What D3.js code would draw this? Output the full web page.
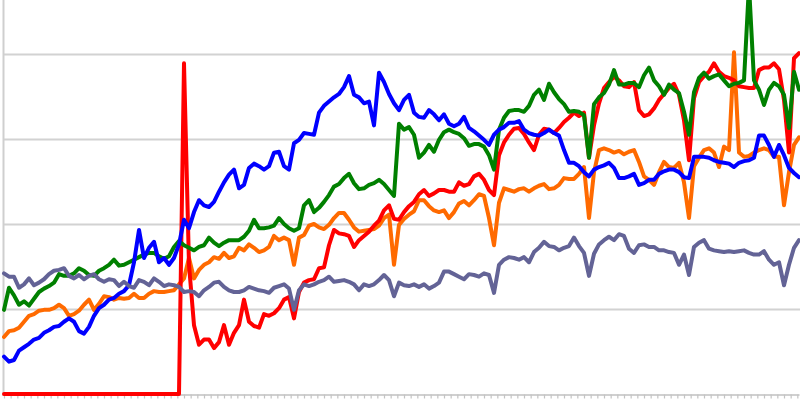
<!DOCTYPE html>
<html><head><meta charset="utf-8">
<script src="https://cdn.jsdelivr.net/npm/d3@7"></script>
<style>html,body{margin:0;padding:0;background:#fff;overflow:hidden}</style>
</head><body><svg id="chart" width="800" height="400"></svg>
<script>
const blue = [
4.4,3.8,4.0,5.1,5.5,5.9,6.4,6.6,7.2,7.5,
7.9,8.0,8.5,8.9,8.5,7.4,7.1,7.9,9.2,10.1,
10.5,11.1,11.3,11.8,12.1,12.8,15.5,19.3,16.0,17.2,
17.9,15.5,16.0,15.2,16.0,17.6,20.5,19.5,21.4,22.8,
22.2,22.0,22.6,23.8,24.9,25.8,26.4,24.2,24.6,26.6,
27.1,26.8,26.4,26.8,28.4,28.5,26.8,26.4,29.5,29.9,
30.7,30.6,30.5,33.1,33.9,34.4,34.9,35.3,36.1,37.4,
35.2,34.9,34.2,34.4,31.6,37.8,36.7,35.3,34.2,33.4,
34.6,35.2,33.1,32.6,32.5,33.4,32.9,32.2,32.9,31.8,
31.5,31.8,32.6,31.3,30.9,30.4,29.9,29.3,30.5,31.1,
31.4,31.9,31.9,32.1,31.1,30.7,30.5,30.4,30.7,31.1,
30.7,30.4,28.7,27.2,27.2,26.8,26.1,25.6,26.4,26.7,
26.9,27.2,26.6,25.4,25.4,25.6,25.9,24.6,24.8,25.2,
25.2,25.9,26.2,26.4,26.4,26.1,25.5,25.4,27.9,27.9,
27.9,27.8,27.5,27.3,27.2,27.1,26.7,27.2,27.4,27.5,
27.8,30.4,30.4,29.3,27.9,29.3,28.1,26.6,26.0,25.5];

const green = [
9.9,12.5,11.6,10.5,10.9,10.4,11.2,12.0,12.4,12.7,
13.1,14.1,13.9,13.9,14.2,14.8,14.5,14.0,13.9,14.5,
14.8,15.2,15.8,15.1,15.2,15.5,15.8,16.1,16.4,16.6,
16.6,16.2,15.9,16.2,17.3,18.0,17.5,17.2,16.9,17.3,
17.5,18.4,17.8,17.4,17.8,18.1,18.1,18.1,18.5,19.2,
20.5,19.5,19.5,19.6,19.8,20.7,20.0,19.5,19.2,19.5,
22.2,22.8,21.4,21.9,22.6,23.4,24.4,24.7,25.4,25.9,
24.8,24.1,24.2,24.6,24.8,25.2,24.7,24.0,23.3,31.8,
31.1,31.4,30.5,27.8,28.4,29.3,28.5,29.9,30.8,31.1,
30.8,30.6,30.1,29.2,29.4,29.4,29.1,28.1,26.4,31.1,
32.5,33.3,33.4,33.4,33.2,33.9,35.2,35.8,34.6,36.5,
35.5,34.7,34.1,33.2,33.3,33.2,32.8,27.8,34.1,34.9,
35.4,36.4,38.1,36.4,36.4,36.6,36.6,36.1,37.5,38.4,
36.9,36.2,35.2,36.4,35.8,35.4,33.2,30.5,35.5,37.2,
37.8,37.1,37.4,37.6,36.9,36.2,36.5,36.6,36.9,48.1,
36.9,35.8,34.0,35.8,36.6,36.2,35.2,31.3,37.9,35.8];

const red = [
0,0,0,0,0,0,0,0,0,0,
0,0,0,0,0,0,0,0,0,0,
0,0,0,0,0,0,0,0,0,0,
0,0,0,0,0,0,38.9,15.2,8.1,5.8,
6.4,6.4,5.4,6.1,8.1,5.8,7.2,8.1,11.1,8.5,
8.0,7.8,9.4,9.2,9.5,10.1,11.1,11.4,8.9,12.0,
13.1,13.4,13.5,14.8,14.9,17.5,19.3,18.9,18.8,18.6,
17.3,18.1,18.6,19.1,19.8,20.4,21.6,22.2,20.6,20.5,
21.4,22.1,22.6,23.5,24.0,23.3,23.6,24.0,24.0,23.8,
23.8,24.9,24.5,24.7,25.6,25.9,25.2,24.0,23.4,28.1,
29.6,30.5,31.2,31.3,30.6,29.6,28.7,30.5,31.2,31.1,
30.7,31.3,32.0,32.5,33.1,32.7,33.1,27.8,31.6,34.2,
36.0,36.7,37.3,36.9,36.2,36.1,36.7,33.4,32.7,32.9,
33.6,34.6,35.3,36.0,36.5,35.2,32.2,27.5,34.8,36.7,
37.4,37.9,38.9,37.9,37.4,37.2,36.9,36.2,36.1,36.0,
36.0,38.1,38.4,38.4,38.9,38.2,34.6,28.4,39.5,40.1];

const orange = [
6.7,7.4,7.5,7.8,8.5,9.2,9.4,9.8,9.9,9.9,
10.1,10.5,10.1,9.2,9.4,9.8,10.5,11.1,9.9,10.6,
11.5,11.4,11.1,11.3,11.2,11.3,11.8,11.3,11.3,11.8,
12.1,12.0,12.0,12.1,12.2,12.9,13.6,16.0,13.6,14.6,
15.2,15.5,16.1,15.9,16.6,16.0,16.2,17.2,16.9,17.6,
17.2,16.7,16.9,17.3,18.6,18.1,18.4,18.1,15.2,18.4,
18.7,19.8,20.0,19.6,19.4,19.9,20.7,21.3,21.3,20.5,
19.6,19.1,19.2,19.3,19.4,19.8,20.7,21.1,15.2,19.9,
20.6,21.1,21.5,22.8,22.8,22.1,21.6,21.4,21.6,20.7,
21.4,22.4,22.7,22.2,22.8,23.5,23.3,20.7,17.5,22.5,
24.2,24.0,23.8,24.1,24.2,23.8,24.2,24.5,24.7,24.1,
24.2,24.6,25.4,25.3,25.3,25.9,26.7,20.7,26.1,28.7,
28.9,28.7,28.4,28.6,28.2,28.5,28.7,27.3,25.6,25.2,
24.6,26.1,27.3,26.7,26.6,27.2,24.9,20.7,26.8,27.8,
28.7,28.9,28.4,26.7,29.1,28.7,40.2,28.4,27.9,28.0,
28.4,28.7,28.9,28.7,27.9,27.9,22.2,26.1,29.3,30.2];

const slate = [
14.2,13.8,13.8,12.5,12.9,13.6,12.8,13.1,13.5,14.1,
14.5,14.6,14.8,13.9,13.6,14.0,13.5,13.9,14.1,13.5,
13.2,13.5,13.4,12.7,13.2,12.7,12.5,13.4,13.2,12.8,
13.6,13.2,12.7,12.9,12.8,12.6,12.0,12.1,12.0,11.5,
12.2,12.6,13.1,13.2,12.6,12.2,12.0,12.0,12.2,12.6,
12.4,12.2,12.1,11.9,12.5,12.7,12.9,12.4,9.9,12.2,
12.9,12.7,12.9,13.2,13.4,13.8,13.2,13.3,13.4,13.2,
12.9,12.2,12.9,12.7,12.9,13.4,14.0,13.4,11.5,13.1,
12.8,12.7,12.9,12.6,12.9,12.4,12.7,13.1,14.4,14.4,
14.1,13.8,13.5,14.1,14.0,13.8,14.2,14.0,11.9,15.2,
15.8,16.1,16.0,15.8,16.1,15.5,16.7,17.2,17.9,17.4,
17.3,16.9,17.2,17.4,18.4,17.4,16.6,13.9,16.5,17.6,
18.1,18.5,18.1,18.8,18.6,17.1,16.6,17.5,17.6,17.3,
17.3,16.9,16.9,16.7,16.6,15.2,16.4,14.0,17.3,17.8,
18.1,17.1,16.9,16.8,16.7,16.8,16.7,16.8,16.9,16.6,
16.4,16.4,16.8,15.8,15.2,15.5,12.8,15.2,17.2,18.1];

const gridTicks = [10, 20, 30, 40];
const periods = d3.range(blue.length);

const series = [
  {name: "orange", values: orange, color: "#ff6a00"},
  {name: "red", values: red, color: "#ff0000"},
  {name: "green", values: green, color: "#008000"},
  {name: "blue", values: blue, color: "#0000ff"},
  {name: "slate", values: slate, color: "#636396"}
];

const W = 800, H = 400;
const margin = {left: 4, right: 1, bottom: 6};
const svg = d3.select("#chart");
const x = d3.scaleLinear().domain([0, periods.length - 1]).range([margin.left, W - margin.right]);
const y = d3.scaleLinear().domain([0, 50]).range([H - margin.bottom, -31]);

// gridlines
svg.append("g")
  .attr("transform", `translate(${margin.left - 0.5},0)`)
  .call(d3.axisLeft(y).tickValues(gridTicks).tickSize(-(W - margin.left + 1)).tickFormat(""))
  .call(g => {
    g.select(".domain").remove();
    g.selectAll(".tick line").attr("stroke", "#d2d2d2").attr("stroke-width", 2);
  });

// left axis line
svg.append("line")
  .attr("x1", margin.left - 0.5).attr("x2", margin.left - 0.5)
  .attr("y1", 0).attr("y2", H - margin.bottom + 2)
  .attr("stroke", "#cfcfcf").attr("stroke-width", 2);

// bottom axis with dense ticks
svg.append("g")
  .attr("transform", `translate(0,${H - margin.bottom + 0.5})`)
  .call(d3.axisBottom(x).tickValues(d3.range(0, periods.length, 4 / 3)).tickSize(4).tickSizeOuter(0).tickFormat(""))
  .call(g => {
    g.select(".domain").attr("stroke", "#d0d0d0").attr("stroke-width", 2);
    g.selectAll(".tick line").attr("stroke", "#c4c4c4").attr("stroke-width", 1.2);
  });

const line = d3.line()
  .x((d, i) => x(periods[i]))
  .y(d => y(d))
  .curve(d3.curveLinear);

svg.append("g").selectAll("path")
  .data(series)
  .join("path")
  .attr("fill", "none")
  .attr("stroke", d => d.color)
  .attr("stroke-width", 4)
  .attr("stroke-linejoin", "round")
  .attr("stroke-linecap", "round")
  .attr("d", d => line(d.values));
</script>
</body></html>
